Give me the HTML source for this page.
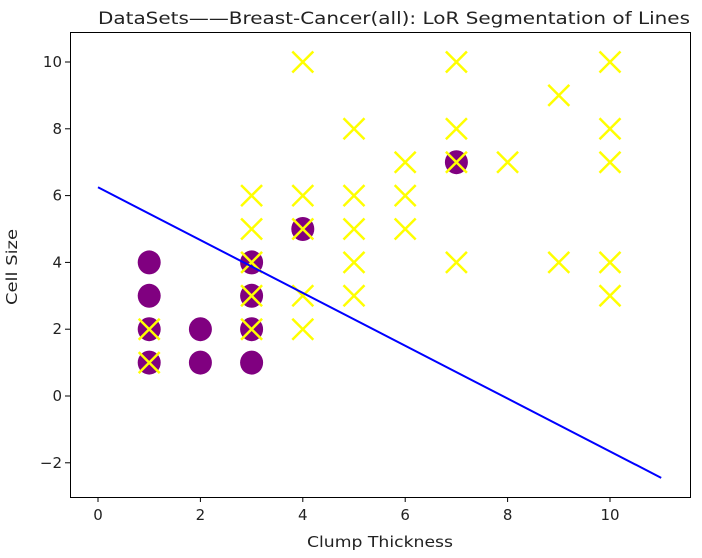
<!DOCTYPE html>
<html><head><meta charset="utf-8"><style>
body{margin:0;background:#fff;}
svg text{font-family:"DejaVu Sans","Liberation Sans",sans-serif;fill:#222;}
</style></head><body>
<svg id="chart" width="702" height="553" viewBox="0 0 702 553">
<text x="98" y="24" font-size="17" textLength="592" lengthAdjust="spacingAndGlyphs">DataSets——Breast-Cancer(all): LoR Segmentation of Lines</text>
<g id="plot"></g>
<rect x="70.5" y="32.5" width="620" height="465" fill="none" stroke="#000" stroke-width="1"/>
<text x="307" y="547" font-size="15" textLength="146" lengthAdjust="spacingAndGlyphs">Clump Thickness</text>
<text x="0" y="0" font-size="15" text-anchor="middle" textLength="76" lengthAdjust="spacingAndGlyphs" transform="translate(17,267) rotate(-90)">Cell Size</text>
</svg>
<script>
const xTicks=[0,2,4,6,8,10];
const yTicks=[-2,0,2,4,6,8,10];
const circleX=[1,1,1,1,2,2,3,3,3,3,4,7];
const circleY=[1,2,3,4,1,2,1,2,3,4,5,7];
const crossX=[1,1,3,3,3,3,3,4,4,4,4,4,5,5,5,5,5,6,6,6,7,7,7,7,8,9,9,10,10,10,10,10];
const crossY=[1,2,2,3,4,5,6,2,3,5,6,10,3,4,5,6,8,5,6,7,4,7,8,10,7,4,9,3,4,7,8,10];
const lineX=[0,11];
const lineY=[6.25,-2.45];
const sx=v=>98+v*51.2;
const sy=v=>396-v*33.4;
const NS="http://www.w3.org/2000/svg";
const g=document.getElementById('plot');
function mk(t,a){const e=document.createElementNS(NS,t);for(const k in a)e.setAttribute(k,a[k]);g.appendChild(e);return e;}
xTicks.forEach(v=>{
 const l=mk('line',{x1:sx(v),x2:sx(v),y1:497,y2:502,stroke:'#000'});
 
 
 const t=mk('text',{x:sx(v),y:520,'font-size':15,'text-anchor':'middle'});t.textContent=String(v);
 
 
});
yTicks.forEach(v=>{
 const l=mk('line',{x1:65,x2:70,y1:sy(v),y2:sy(v),stroke:'#000'});
 
 
 const t=mk('text',{x:62,y:sy(v)+5,'font-size':15,'text-anchor':'end'});t.textContent=String(v).replace('-','−');
 
 
});
circleX.forEach((x,i)=>{
 const c=mk('ellipse',{cx:sx(x),cy:sy(circleY[i]),rx:11.5,ry:12,fill:'#800080'});
 
 
});
crossX.forEach((x,i)=>{
 const cx=sx(x),cy=sy(crossY[i]),r=10.5;
 const p=mk('path',{d:`M${cx-r},${cy-r}L${cx+r},${cy+r}M${cx-r},${cy+r}L${cx+r},${cy-r}`,stroke:'#ffff00','stroke-width':2.5,fill:'none'});
 
 
});
const ln=mk('line',{x1:sx(lineX[0]),y1:sy(lineY[0]),x2:sx(lineX[1]),y2:sy(lineY[1]),stroke:'#0000ff','stroke-width':2});


</script>
</body></html>
